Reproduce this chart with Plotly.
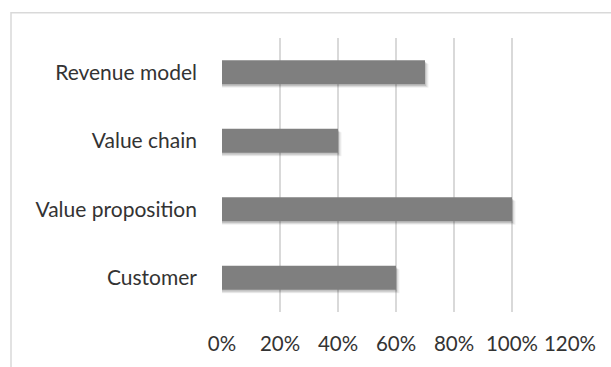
import plotly.graph_objects as go

categories = ["Customer", "Value proposition", "Value chain", "Revenue model"]
values = [60, 100, 40, 70]
tick_values = [0, 20, 40, 60, 80, 100, 120]
tick_labels = ["0%", "20%", "40%", "60%", "80%", "100%", "120%"]

FONT = "Lato"
TEXT = "#333333"
GRID = "#d9d9d9"
BAR = "#7f7f7f"

fig = go.Figure()

# soft shadow layers (derived from the same values)
for dx, dy, a in [(1.2, 0.05, 0.06), (0.8, 0.04, 0.08), (0.4, 0.025, 0.12)]:
    fig.add_trace(go.Bar(
        y=categories, x=[v + dx for v in values], orientation="h",
        width=0.35, offset=-0.175 - dy,
        marker=dict(color=f"rgba(0,0,0,{a})", line=dict(width=0)),
        hoverinfo="skip", showlegend=False,
    ))

fig.add_trace(go.Bar(
    y=categories, x=values, orientation="h",
    width=0.35, offset=-0.175,
    marker=dict(color=BAR, line=dict(width=0)),
    showlegend=False,
))

W, H = 611, 367
L, R, T, B = 222, 41, 38, 53
pw, ph = W - L - R, H - T - B

def px_to_paper_x(px):
    return (px - L) / pw

def px_to_paper_y(py):
    return (H - B - py) / ph

fig.add_shape(type="rect", xref="paper", yref="paper",
              x0=px_to_paper_x(11), x1=px_to_paper_x(630),
              y0=px_to_paper_y(390), y1=px_to_paper_y(12.5),
              line=dict(color=GRID, width=1.5), fillcolor="rgba(0,0,0,0)", layer="below")

fig.update_layout(
    width=W, height=H,
    margin=dict(l=L, r=R, t=T, b=B, pad=0),
    paper_bgcolor="white", plot_bgcolor="white",
    barmode="overlay",
    font=dict(family=FONT, size=20, color=TEXT),
    xaxis=dict(range=[0, 120], tickvals=tick_values, ticktext=tick_labels,
               tickfont=dict(size=20.5),
               showgrid=True, gridcolor=GRID, gridwidth=1.5,
               zeroline=False, showline=False, ticks="",
               ticklabelstandoff=17, fixedrange=True),
    yaxis=dict(categoryorder="array", categoryarray=categories,
               tickfont=dict(size=21),
               range=[-0.5, 3.5], showgrid=False, zeroline=False,
               showline=False, ticks="", ticklabelstandoff=24, fixedrange=True),
)

fig.write_html("out.html")
